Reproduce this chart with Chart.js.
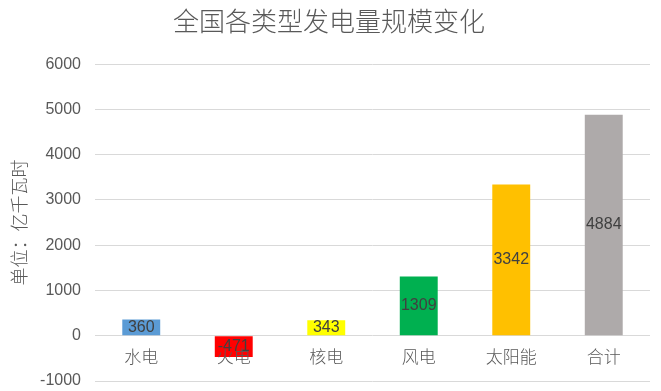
<!DOCTYPE html>
<html>
<head>
<meta charset="utf-8">
<script src="https://cdn.jsdelivr.net/npm/chart.js@4"></script>
<style>
  html, body { margin: 0; padding: 0; background: #fff; }
  #wrap { width: 661px; height: 391px; }
</style>
</head>
<body>
<div id="wrap"><canvas id="chart" width="661" height="391"></canvas></div>
<script>
// 数据
const categories = ['水电', '火电', '核电', '风电', '太阳能', '合计'];
const values     = [360, -471, 343, 1309, 3342, 4884];
const barColors  = ['#5B9BD5', '#FF0000', '#FFFF00', '#00B050', '#FFC000', '#AEAAAA'];
const yTicks     = [-1000, 0, 1000, 2000, 3000, 4000, 5000, 6000];

const FONT = '"Liberation Sans", "Noto Sans CJK SC", sans-serif';
const CJK  = '"Noto Sans CJK SC", sans-serif';

// 柱内数值标签
const valueLabels = {
    id: 'valueLabels',
    afterDatasetsDraw(chart) {
        const ctx = chart.ctx;
        const meta = chart.getDatasetMeta(0);
        ctx.save();
        ctx.font = '16px ' + FONT;
        ctx.fillStyle = '#404040';
        ctx.textAlign = 'center';
        ctx.textBaseline = 'middle';
        meta.data.forEach((bar, i) => {
            const y = (bar.y + bar.base) / 2;
            ctx.fillText(String(values[i]), bar.x, y);
        });
        ctx.restore();
    }
};

// 类别标签贴着 0 线
const categoryLabels = {
    id: 'categoryLabels',
    afterDatasetsDraw(chart) {
        const ctx = chart.ctx;
        const xs = chart.scales.x;
        const y0 = chart.scales.y.getPixelForValue(0);
        ctx.save();
        ctx.font = '300 17px ' + CJK;
        ctx.fillStyle = '#595959';
        ctx.textAlign = 'center';
        ctx.textBaseline = 'middle';
        categories.forEach((c, i) => {
            ctx.fillText(c, xs.getPixelForValue(i), y0 + 21);
        });
        ctx.restore();
    }
};

new Chart(document.getElementById('chart'), {
    type: 'bar',
    data: {
        labels: categories,
        datasets: [{
            data: values,
            backgroundColor: barColors,
            borderWidth: 0,
            barPercentage: 0.41,
            categoryPercentage: 1
        }]
    },
    options: {
        responsive: false,
        animation: false,
        layout: { padding: { top: 2, right: 11, bottom: 10, left: 8 } },
        plugins: {
            legend: { display: false },
            tooltip: { enabled: false },
            title: {
                display: true,
                text: '全国各类型发电量规模变化',
                color: '#595959',
                font: { family: CJK, size: 26, weight: 300 },
                padding: { top: 4, bottom: 27 }
            }
        },
        scales: {
            x: { display: false },
            y: {
                min: -1000,
                max: 6000,
                afterBuildTicks(scale) {
                    scale.ticks = yTicks.map(v => ({ value: v }));
                },
                afterFit(scale) {
                    scale.width = 87;
                    scale.paddingTop = 0;
                    scale.paddingBottom = 0;
                },
                ticks: {
                    color: '#595959',
                    font: { family: FONT, size: 16 },
                    padding: 14,
                    callback: v => String(v)
                },
                grid: { color: '#D9D9D9', drawTicks: false },
                border: { display: false },
                title: {
                    display: true,
                    text: '单位：亿千瓦时',
                    color: '#595959',
                    font: { family: CJK, size: 18, weight: 300 },
                    padding: { top: 0, bottom: 4 }
                }
            }
        }
    },
    plugins: [valueLabels, categoryLabels]
});
</script>
</body>
</html>
